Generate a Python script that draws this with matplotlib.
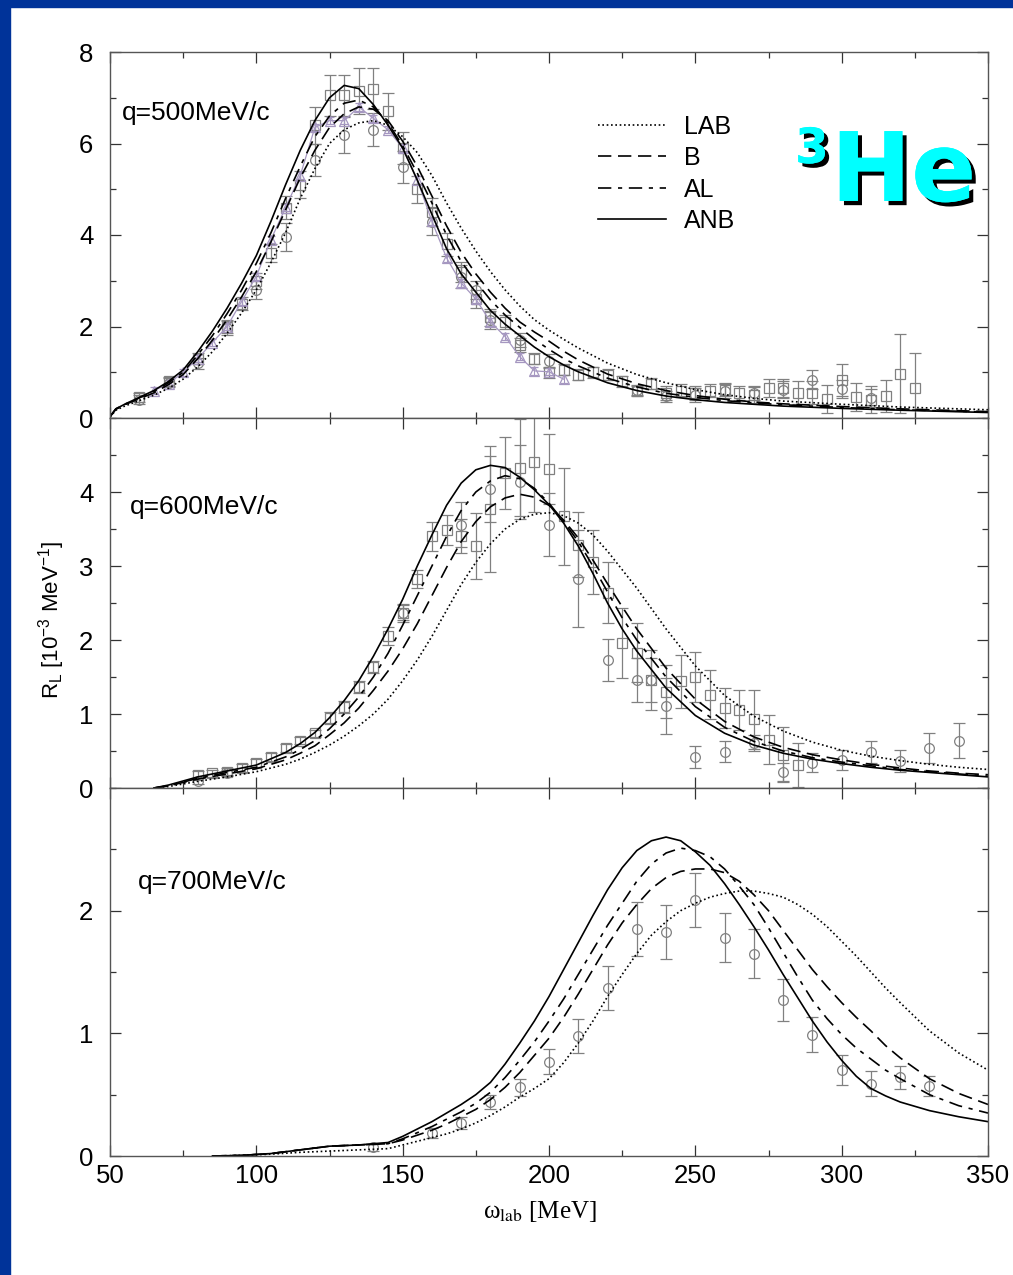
import matplotlib
matplotlib.use('Agg')
from matplotlib import pyplot as plt
from matplotlib import patches
from matplotlib import patheffects as pe
from matplotlib.ticker import MultipleLocator

plt.rcParams['font.family'] = ['Liberation Sans', 'DejaVu Sans']
plt.rcParams['mathtext.fontset'] = 'custom'
plt.rcParams['mathtext.rm'] = 'Liberation Sans'
plt.rcParams['mathtext.it'] = 'Liberation Sans:italic'

# ---------------- q = 500 MeV/c : theory curves ----------------
w500 = [50, 52, 55, 60, 65, 70, 75, 80, 85, 90, 95, 100, 105, 110, 115, 120, 125, 130,
        135, 140, 145, 150, 155, 160, 165, 170, 175, 180, 185, 190, 195, 200, 205, 210,
        220, 230, 240, 250, 260, 270, 280, 300, 320, 350]
anb500 = [0.03, 0.2, 0.3, 0.45, 0.6, 0.8, 1.05, 1.45, 1.9, 2.4, 2.95, 3.55, 4.3, 5.1, 5.85,
          6.5, 7.0, 7.27, 7.2, 6.85, 6.4, 5.9, 5.2, 4.45, 3.7, 3.15, 2.75, 2.35, 2.05, 1.8,
          1.55, 1.34, 1.16, 1.01, 0.77, 0.6, 0.48, 0.4, 0.34, 0.3, 0.26, 0.21, 0.17, 0.12]
al500 = [0.03, 0.2, 0.3, 0.44, 0.58, 0.77, 1.0, 1.38, 1.8, 2.28, 2.8, 3.38, 4.05, 4.8, 5.5,
         6.15, 6.6, 6.88, 6.95, 6.8, 6.45, 5.95, 5.35, 4.7, 4.0, 3.42, 2.98, 2.58, 2.25, 1.98,
         1.72, 1.5, 1.3, 1.14, 0.87, 0.68, 0.54, 0.45, 0.38, 0.33, 0.29, 0.23, 0.18, 0.13]
b500 = [0.03, 0.19, 0.29, 0.42, 0.55, 0.73, 0.95, 1.3, 1.7, 2.15, 2.65, 3.2, 3.85, 4.55, 5.25,
        5.85, 6.35, 6.65, 6.8, 6.75, 6.5, 6.05, 5.5, 4.85, 4.2, 3.62, 3.15, 2.75, 2.4, 2.1,
        1.88, 1.68, 1.46, 1.27, 0.96, 0.75, 0.6, 0.49, 0.41, 0.35, 0.31, 0.25, 0.2, 0.14]
lab500 = [0.02, 0.17, 0.26, 0.38, 0.5, 0.65, 0.85, 1.12, 1.45, 1.85, 2.3, 2.8, 3.4, 4.05, 4.8,
          5.45, 6.0, 6.3, 6.45, 6.5, 6.4, 6.15, 5.8, 5.3, 4.7, 4.15, 3.65, 3.2, 2.8, 2.45,
          2.15, 1.92, 1.72, 1.53, 1.2, 0.95, 0.77, 0.62, 0.51, 0.43, 0.37, 0.3, 0.24, 0.18]

# ---------------- q = 500 MeV/c : data ----------------
sq500_x = [60, 70, 80, 90, 95, 100, 105, 110, 115, 120, 125, 130, 135, 140, 145, 150, 155,
           160, 165, 170, 175, 180, 185, 190, 195, 200, 205, 210, 215, 220, 225, 230, 235,
           240, 245, 250, 255, 260, 265, 270, 275, 280, 285, 290, 295, 300, 305, 310, 315,
           320, 325]
sq500_y = [0.45, 0.8, 1.3, 2.0, 2.5, 3.0, 3.6, 4.6, 5.1, 6.4, 7.05, 7.05, 7.15, 7.2, 6.7, 5.9,
           5.0, 4.5, 3.8, 3.2, 2.6, 2.2, 2.1, 1.6, 1.3, 1.0, 1.05, 0.95, 1.0, 0.95, 0.8, 0.6,
           0.75, 0.55, 0.6, 0.55, 0.6, 0.62, 0.55, 0.5, 0.66, 0.65, 0.55, 0.55, 0.42, 0.84,
           0.46, 0.4, 0.49, 0.97, 0.66]
sq500_e = [0.1, 0.1, 0.12, 0.15, 0.15, 0.18, 0.2, 0.25, 0.3, 0.4, 0.45, 0.45, 0.5, 0.44,
           0.4, 0.35, 0.3, 0.3, 0.25, 0.22, 0.2, 0.18, 0.15, 0.15, 0.12, 0.12, 0.12, 0.12,
           0.12, 0.12, 0.12, 0.1, 0.12, 0.15, 0.15, 0.15, 0.15, 0.15, 0.15, 0.18, 0.2, 0.2,
           0.25, 0.25, 0.3, 0.35, 0.3, 0.3, 0.35, 0.87, 0.76]
ci500_x = [60, 70, 80, 90, 100, 110, 120, 130, 140, 150, 160, 170, 175, 180, 190, 200,
           230, 240, 250, 260, 270, 280, 290, 300, 310]
ci500_y = [0.4, 0.77, 1.2, 1.96, 2.8, 3.96, 5.64, 6.19, 6.3, 5.49, 4.29, 3.09, 2.8, 2.14,
           1.7, 1.25, 0.61, 0.48, 0.51, 0.59, 0.55, 0.62, 0.84, 0.64, 0.44]
ci500_e = [0.1, 0.1, 0.12, 0.15, 0.2, 0.3, 0.35, 0.4, 0.36, 0.35, 0.3, 0.25, 0.2, 0.2,
           0.15, 0.15, 0.12, 0.12, 0.15, 0.15, 0.15, 0.18, 0.2, 0.2, 0.2]
tr500_x = [65, 70, 75, 80, 85, 90, 95, 100, 105, 110, 115, 120, 125, 130, 135, 140, 145,
           150, 155, 160, 165, 170, 175, 180, 185, 190, 195, 200, 205]
tr500_y = [0.6, 0.75, 1.0, 1.3, 1.65, 2.0, 2.55, 3.1, 3.9, 4.6, 5.3, 6.35, 6.5, 6.5, 6.8,
           6.55, 6.3, 5.9, 5.2, 4.3, 3.5, 2.95, 2.6, 2.1, 1.78, 1.34, 1.03, 1.01, 0.85]
tr500_e = [0.08] * 29

# ---------------- q = 600 MeV/c ----------------
w600 = [65, 70, 80, 90, 100, 110, 115, 120, 125, 130, 135, 140, 145, 150, 155, 160, 165,
        170, 175, 180, 185, 190, 195, 200, 205, 210, 215, 220, 225, 230, 240, 250, 260,
        270, 280, 290, 300, 310, 320, 330, 340, 350]
anb600 = [0.0, 0.04, 0.15, 0.23, 0.31, 0.48, 0.6, 0.75, 0.95, 1.18, 1.45, 1.78, 2.15, 2.55,
          3.0, 3.42, 3.82, 4.12, 4.3, 4.36, 4.33, 4.2, 4.03, 3.83, 3.58, 3.27, 2.9, 2.5,
          2.15, 1.85, 1.35, 0.98, 0.74, 0.58, 0.47, 0.39, 0.33, 0.28, 0.24, 0.21, 0.18, 0.15]
al600 = [0.0, 0.03, 0.13, 0.21, 0.28, 0.42, 0.52, 0.64, 0.8, 1.0, 1.23, 1.5, 1.82, 2.2,
         2.6, 3.0, 3.4, 3.75, 4.0, 4.15, 4.22, 4.18, 4.05, 3.85, 3.6, 3.33, 3.0, 2.65, 2.3,
         2.0, 1.5, 1.1, 0.82, 0.63, 0.5, 0.41, 0.35, 0.3, 0.25, 0.22, 0.19, 0.16]
b600 = [0.0, 0.03, 0.12, 0.19, 0.26, 0.38, 0.47, 0.57, 0.72, 0.88, 1.08, 1.32, 1.58, 1.88,
        2.22, 2.6, 2.98, 3.33, 3.6, 3.8, 3.92, 3.97, 3.93, 3.82, 3.62, 3.38, 3.08, 2.76,
        2.45, 2.15, 1.62, 1.2, 0.9, 0.69, 0.55, 0.45, 0.38, 0.32, 0.27, 0.23, 0.2, 0.18]
lab600 = [0.0, 0.02, 0.09, 0.15, 0.22, 0.32, 0.39, 0.48, 0.58, 0.7, 0.84, 1.0, 1.2, 1.45,
          1.73, 2.05, 2.4, 2.75, 3.05, 3.3, 3.5, 3.63, 3.7, 3.72, 3.68, 3.58, 3.42, 3.2,
          2.95, 2.7, 2.15, 1.65, 1.25, 0.97, 0.77, 0.62, 0.51, 0.43, 0.37, 0.32, 0.28, 0.25]

sq600_x = [80, 85, 90, 95, 100, 105, 110, 115, 120, 125, 130, 135, 140, 145, 150, 155, 160,
           165, 170, 175, 180, 185, 190, 195, 200, 205, 210, 215, 220, 225, 230, 235, 240,
           245, 250, 255, 260, 265, 270, 275, 280, 285]
sq600_y = [0.18, 0.2, 0.22, 0.27, 0.34, 0.42, 0.54, 0.64, 0.74, 0.95, 1.1, 1.37, 1.64, 2.05,
           2.37, 2.82, 3.4, 3.49, 3.4, 3.27, 3.77, 4.26, 4.33, 4.4, 4.31, 3.67, 3.29, 3.05,
           2.64, 1.96, 1.83, 1.46, 1.3, 1.44, 1.5, 1.26, 1.08, 1.06, 0.93, 0.65, 0.45, 0.31]
sq600_e = [0.05, 0.05, 0.05, 0.05, 0.05, 0.05, 0.05, 0.05, 0.05, 0.08, 0.08, 0.08, 0.08,
           0.12, 0.12, 0.12, 0.2, 0.2, 0.23, 0.44, 0.85, 0.49, 0.65, 0.67, 0.47, 0.65, 0.44,
           0.43, 0.41, 0.47, 0.4, 0.4, 0.36, 0.36, 0.34, 0.33, 0.27, 0.27, 0.4, 0.33, 0.37,
           0.3]
ci600_x = [80, 90, 150, 170, 180, 190, 200, 210, 220, 230, 235, 240, 250, 260, 270, 280,
           290, 300, 310, 320, 330, 340]
ci600_y = [0.09, 0.2, 2.37, 3.56, 4.04, 4.13, 3.56, 2.83, 1.73, 1.46, 1.46, 1.11, 0.42,
           0.49, 0.61, 0.22, 0.34, 0.38, 0.49, 0.37, 0.54, 0.64]
ci600_e = [0.04, 0.04, 0.1, 0.3, 0.45, 0.5, 0.43, 0.65, 0.29, 0.3, 0.3, 0.38, 0.15, 0.14,
           0.11, 0.12, 0.13, 0.14, 0.15, 0.15, 0.2, 0.24]

# ---------------- q = 700 MeV/c ----------------
w700 = [85, 95, 105, 115, 125, 135, 145, 150, 155, 160, 165, 170, 175, 180, 185, 190, 195,
        200, 205, 210, 215, 220, 225, 230, 235, 240, 245, 250, 255, 260, 265, 270, 275,
        280, 285, 290, 295, 300, 305, 310, 315, 320, 330, 340, 350]
anb700 = [0.0, 0.005, 0.02, 0.05, 0.08, 0.09, 0.11, 0.16, 0.22, 0.28, 0.35, 0.42, 0.5, 0.6,
          0.75, 0.92, 1.1, 1.3, 1.52, 1.74, 1.96, 2.17, 2.35, 2.49, 2.57, 2.6, 2.57, 2.48,
          2.37, 2.22, 2.05, 1.87, 1.68, 1.48, 1.29, 1.1, 0.93, 0.78, 0.65, 0.55, 0.49, 0.44,
          0.37, 0.32, 0.28]
al700 = [0.0, 0.005, 0.02, 0.05, 0.08, 0.09, 0.1, 0.14, 0.19, 0.24, 0.3, 0.36, 0.43, 0.52,
         0.64, 0.78, 0.93, 1.1, 1.28, 1.48, 1.68, 1.88, 2.06, 2.24, 2.38, 2.47, 2.51, 2.49,
         2.44, 2.34, 2.2, 2.05, 1.86, 1.66, 1.46, 1.27, 1.12, 0.99, 0.88, 0.79, 0.7, 0.63,
         0.5, 0.41, 0.35]
b700 = [0.0, 0.005, 0.02, 0.05, 0.08, 0.09, 0.1, 0.13, 0.17, 0.21, 0.26, 0.32, 0.38, 0.46,
        0.56, 0.68, 0.82, 0.96, 1.13, 1.32, 1.52, 1.72, 1.9, 2.05, 2.18, 2.27, 2.32, 2.34,
        2.34, 2.31, 2.24, 2.13, 2.0, 1.84, 1.68, 1.52, 1.38, 1.25, 1.13, 1.02, 0.9, 0.8,
        0.63, 0.51, 0.42]
lab700 = [0.0, 0.005, 0.015, 0.03, 0.04, 0.05, 0.06, 0.09, 0.12, 0.15, 0.18, 0.22, 0.27,
          0.33, 0.4, 0.48, 0.55, 0.63, 0.76, 0.92, 1.1, 1.3, 1.48, 1.65, 1.8, 1.91, 2.0,
          2.06, 2.11, 2.14, 2.16, 2.16, 2.14, 2.11, 2.05, 1.97, 1.87, 1.75, 1.63, 1.5, 1.37,
          1.25, 1.02, 0.84, 0.7]

ci700_x = [140, 160, 170, 180, 190, 200, 210, 220, 230, 240, 250, 260, 270, 280, 290, 300,
           310, 320, 330]
ci700_y = [0.07, 0.19, 0.27, 0.44, 0.56, 0.77, 0.98, 1.37, 1.85, 1.83, 2.09, 1.78, 1.65,
           1.27, 0.99, 0.7, 0.59, 0.64, 0.57]
ci700_e = [0.03, 0.04, 0.05, 0.06, 0.07, 0.1, 0.14, 0.18, 0.22, 0.22, 0.22, 0.2, 0.2, 0.17,
           0.14, 0.12, 0.1, 0.09, 0.08]

labels = ['LAB', 'B', 'AL', 'ANB']
q_labels = ['q=500MeV/c', 'q=600MeV/c', 'q=700MeV/c']

styles = {'LAB': (0, (1, 1.6)), 'B': (0, (8, 4)), 'AL': (0, (8, 4, 2.5, 4)), 'ANB': '-'}
gray = '#808080'
W, H = 1013, 1275


def draw_curves(ax, w, curves):
    lines = []
    for name, vals in zip(labels, curves):
        ln, = ax.plot(w, vals, color='black', lw=1.2, linestyle=styles[name], label=name)
        lines.append(ln)
    return lines


def draw_data(ax, x, y, e, marker, ms=7):
    ax.errorbar(x, y, yerr=e, fmt=marker, mfc='none', mec=gray, ms=ms, mew=0.9,
                ecolor=gray, elinewidth=0.9, capsize=4, capthick=0.9, zorder=1)


fig = plt.figure(figsize=(W / 100, H / 100), dpi=100)
fig.patch.set_facecolor('white')

left, right = 110 / W, 988 / W
edges = [52, 418, 788, 1156]
axes = []
for i in range(3):
    top = 1 - edges[i] / H
    bot = 1 - edges[i + 1] / H
    axes.append(fig.add_axes([left, bot, right - left, top - bot]))

ax1, ax2, ax3 = axes

# panel 1
draw_data(ax1, sq500_x, sq500_y, sq500_e, 's', ms=6.5)
draw_data(ax1, ci500_x, ci500_y, ci500_e, 'o', ms=7)
ax1.errorbar(tr500_x, tr500_y, yerr=tr500_e, fmt='-^', color='#a597c0', mfc='none',
             mec='#a597c0', ms=7, mew=0.9, lw=0.9, elinewidth=0.8, capsize=3, zorder=1)
lines1 = draw_curves(ax1, w500, [lab500, b500, al500, anb500])
ax1.set_ylim(0, 8)
ax1.yaxis.set_major_locator(MultipleLocator(2))
ax1.yaxis.set_minor_locator(MultipleLocator(1))

# panel 2
draw_data(ax2, sq600_x, sq600_y, sq600_e, 's', ms=6.5)
draw_data(ax2, ci600_x, ci600_y, ci600_e, 'o', ms=7)
draw_curves(ax2, w600, [lab600, b600, al600, anb600])
ax2.set_ylim(0, 5)
ax2.set_yticks([0, 1, 2, 3, 4])
ax2.yaxis.set_minor_locator(MultipleLocator(0.5))

# panel 3
draw_data(ax3, ci700_x, ci700_y, ci700_e, 'o', ms=7)
draw_curves(ax3, w700, [lab700, b700, al700, anb700])
ax3.set_ylim(0, 3)
ax3.set_yticks([0, 1, 2])
ax3.yaxis.set_minor_locator(MultipleLocator(0.5))

text_y = [0.833, 0.759, 0.745]
text_x = [0.014, 0.023, 0.032]
for ax, lab, tx, ty in zip(axes, q_labels, text_x, text_y):
    ax.set_xlim(50, 350)
    ax.xaxis.set_major_locator(MultipleLocator(50))
    ax.xaxis.set_minor_locator(MultipleLocator(25))
    ax.tick_params(which='both', direction='in', top=True, right=True, colors='#333333',
                   labelcolor='black', labelsize=18.5, width=0.9)
    ax.tick_params(axis='y', which='both', pad=12)
    ax.tick_params(axis='x', which='both', pad=6)
    ax.tick_params(which='major', length=8)
    ax.tick_params(which='minor', length=4)
    for s in ax.spines.values():
        s.set_color('#555555')
        s.set_linewidth(1.0)
    ax.text(tx, ty, lab, transform=ax.transAxes, fontsize=19, va='center', ha='left')
    if ax is not ax3:
        ax.tick_params(axis='x', labelbottom=False)

ax1.legend(handles=lines1, loc='upper left', bbox_to_anchor=(0.556, 0.829), frameon=False,
           fontsize=18, handlelength=2.7, handletextpad=0.75, labelspacing=0.3,
           borderpad=0, borderaxespad=0)

fig.text(540 / W, 1 - 1212 / H, '\u03c9$_{\\mathrm{lab}}$ [MeV]', family='Liberation Serif',
         math_fontfamily='stix', fontsize=18, ha='center', va='center')
fig.text(52 / W, 1 - 620 / H, 'R$_{\\mathrm{L}}$ [10$^{-3}$ MeV$^{-1}$]', rotation=90,
         fontsize=16, ha='center', va='center')

shadow = [pe.withSimplePatchShadow(offset=(3, -3), shadow_rgbFace='black', alpha=1.0),
          pe.Normal()]
fig.text(831 / W, 1 - 201 / H, 'He', family='DejaVu Sans', weight='bold', fontsize=69,
         color='#00ffff', ha='left', va='baseline', path_effects=shadow)
fig.text(795 / W, 1 - 163 / H, '3', family='DejaVu Sans', weight='bold', fontsize=35,
         color='#00ffff', ha='left', va='baseline', path_effects=shadow)

# blue slide frame
blue = '#003399'
fig.patches.append(patches.Rectangle((0, 0), 10 / W, 1, transform=fig.transFigure,
                                     color=blue, zorder=5))
fig.patches.append(patches.Rectangle((0, 1 - 7 / H), 1, 7 / H, transform=fig.transFigure,
                                     color=blue, zorder=5))

fig.savefig('out.png', dpi=100)
